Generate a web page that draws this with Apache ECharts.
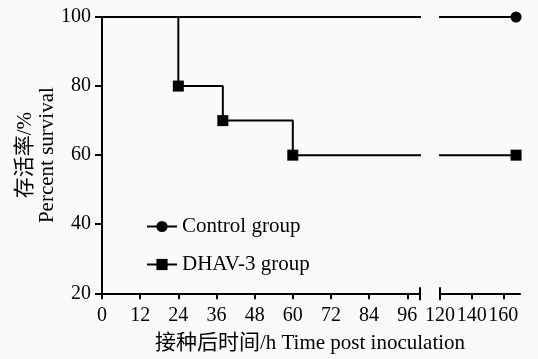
<!DOCTYPE html>
<html>
<head>
<meta charset="utf-8">
<script src="https://cdn.jsdelivr.net/npm/echarts@6/dist/echarts.min.js"></script>
<style>
html,body{margin:0;padding:0;background:#fafafa;}
#c{width:538px;height:359px;}
</style>
</head>
<body>
<div id="c"></div>
<script>
// Data
const controlTime = [0, 168];
const controlSurvival = [100, 100];
const dhavTime = [0, 24, 38, 60, 168];
const dhavSurvival = [100, 80, 70, 60, 60];
const seriesNames = ['Control group', 'DHAV-3 group'];
const xTicksLeft = [0, 12, 24, 36, 48, 60, 72, 84, 96];
const xTicksRight = [120, 140, 160];
const yTicks = [20, 40, 60, 80, 100];

const FONT = '"Liberation Serif", "Times New Roman", "Noto Sans CJK SC", serif';

function pts(t, v) {
  return t.map((x, i) => i === 0 ? { value: [x, v[i]], symbol: 'none' } : { value: [x, v[i]] });
}

const chart = echarts.init(document.getElementById('c'), null, { renderer: 'canvas' });

const axisLine = { show: true, onZero: false, lineStyle: { color: '#000', width: 2 } };
const axisTickX = { show: true, length: 6, lineStyle: { color: '#000', width: 2 } };
const labelX = { color: '#000', fontSize: 20, fontFamily: FONT, margin: 12 };

function mkSeries(name, t, v, sym, xi) {
  return {
    name: name, type: 'line', step: 'end',
    xAxisIndex: xi, yAxisIndex: xi,
    data: pts(t, v),
    symbol: sym, symbolSize: 11,
    lineStyle: { color: '#000', width: 2 },
    itemStyle: { color: '#000' },
    clip: true, animation: false, z: 3
  };
}

const option = {
  backgroundColor: '#fafafa',
  animation: false,
  grid: [
    { left: 102, top: 17, width: 318, height: 276.3, containLabel: false, outerBoundsMode: 'none' },
    { left: 440, top: 17, width: 80, height: 276.3, containLabel: false, outerBoundsMode: 'none' }
  ],
  legend: {
    orient: 'vertical', left: 146, top: 216, padding: 0,
    itemWidth: 30, itemHeight: 14, itemGap: 17,
    data: seriesNames,
    textStyle: { color: '#000', fontSize: 21, fontFamily: FONT }
  },
  xAxis: [
    {
      type: 'value', gridIndex: 0, min: 0, max: 100,
      axisLine: axisLine,
      axisTick: Object.assign({}, axisTickX, { customValues: xTicksLeft }),
      axisLabel: Object.assign({}, labelX, { customValues: xTicksLeft }),
      splitLine: { show: false },
      name: '接种后时间/h Time post inoculation',
      nameLocation: 'middle', nameGap: 40, nameMoveOverlap: false,
      nameTextStyle: { color: '#000', fontSize: 21, fontFamily: FONT, padding: [0, 0, 0, 98] }
    },
    {
      type: 'value', gridIndex: 1, min: 120, max: 170.5,
      axisLine: axisLine,
      axisTick: Object.assign({}, axisTickX, { customValues: xTicksRight }),
      axisLabel: Object.assign({}, labelX, { customValues: xTicksRight }),
      splitLine: { show: false }
    }
  ],
  yAxis: [
    {
      type: 'value', gridIndex: 0, min: 20, max: 100, interval: 20,
      axisLine: axisLine,
      axisTick: { show: true, length: 7, lineStyle: { color: '#000', width: 2 }, customValues: yTicks },
      axisLabel: { color: '#000', fontSize: 20, fontFamily: FONT, margin: 11, customValues: yTicks },
      splitLine: { show: false },
      name: '存活率/%\nPercent survival',
      nameLocation: 'middle', nameGap: 44, nameRotate: 90, nameMoveOverlap: false,
      nameTextStyle: { color: '#000', fontSize: 21, fontFamily: FONT, lineHeight: 22 }
    },
    {
      type: 'value', gridIndex: 1, min: 20, max: 100, interval: 20, show: false
    }
  ],
  series: [
    mkSeries(seriesNames[0], controlTime, controlSurvival, 'circle', 0),
    mkSeries(seriesNames[1], dhavTime, dhavSurvival, 'rect', 0),
    mkSeries(seriesNames[0], controlTime, controlSurvival, 'circle', 1),
    mkSeries(seriesNames[1], dhavTime, dhavSurvival, 'rect', 1)
  ]
};
chart.setOption(option);

// axis break marks at the ends of the two x-axis segments
const leftEnd = chart.convertToPixel({ xAxisIndex: 0, yAxisIndex: 0 }, [100, 20]);
const rightStart = chart.convertToPixel({ xAxisIndex: 1, yAxisIndex: 1 }, [120, 20]);
chart.setOption({
  graphic: [leftEnd, rightStart].map(p => ({
    type: 'line', silent: true, z: 10,
    shape: { x1: p[0], y1: p[1] - 6, x2: p[0], y2: p[1] + 7 },
    style: { stroke: '#000', lineWidth: 2 }
  }))
});
</script>
</body>
</html>
